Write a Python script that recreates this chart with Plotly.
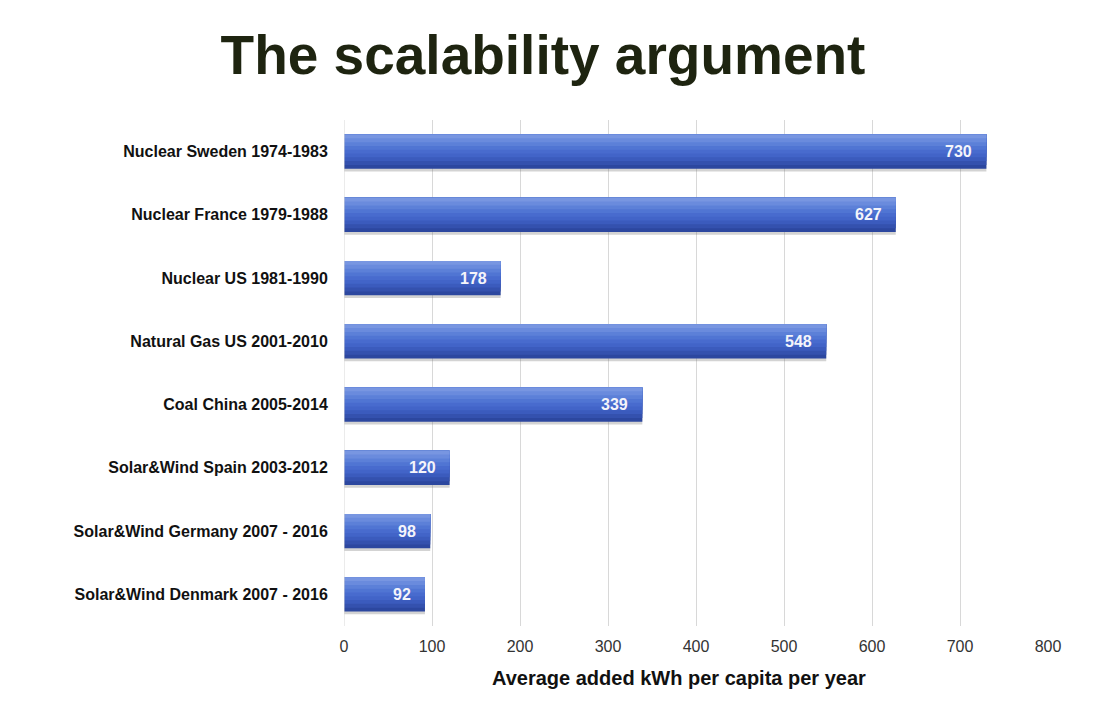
import plotly.graph_objects as go

categories = [
    "Nuclear Sweden 1974-1983",
    "Nuclear France 1979-1988",
    "Nuclear US 1981-1990",
    "Natural Gas US 2001-2010",
    "Coal China 2005-2014",
    "Solar&Wind Spain 2003-2012",
    "Solar&Wind Germany 2007 - 2016",
    "Solar&Wind Denmark 2007 - 2016",
]
values = [730, 627, 178, 548, 339, 120, 98, 92]
x_ticks = [0, 100, 200, 300, 400, 500, 600, 700, 800]

# plotly draws the first category at the bottom, so reverse for top-down order
cats = categories[::-1]
vals = values[::-1]

fig = go.Figure()
W = 0.54
# soft shadow
fig.add_trace(go.Bar(y=cats, x=vals, orientation="h", width=W, offset=-W / 2 - 0.045,
                     marker=dict(color="rgba(110,110,110,0.30)", line=dict(width=0)),
                     hoverinfo="skip", showlegend=False))
# vertical gradient built from stacked bands (bottom dark -> top light)
band_colors = ["#2c479f", "#3451ae", "#3b5bbd", "#4264c8", "#486bce", "#5075d3", "#5c80d8", "#6a8bdd", "#7896e1"]
n = len(band_colors)
for i, c in enumerate(band_colors):
    fig.add_trace(go.Bar(y=cats, x=vals, orientation="h", width=W * (n - i) / n,
                         offset=-W / 2 + W * i / n,
                         marker=dict(color=c, line=dict(width=0)),
                         hoverinfo="skip", showlegend=False))

annotations = [
    dict(x=v, y=c, xref="x", yref="y", text=f"<b>{v}</b>", showarrow=False,
         xanchor="right", yanchor="middle", xshift=-12,
         font=dict(family="Liberation Sans", size=16, color="#f4f4fa"))
    for c, v in zip(cats, vals)
]
annotations.append(dict(x=679 / 1100 - 8 / 1100, y=678, xref="paper", yref="paper",
                        text="<b>Average added kWh per capita per year</b>", showarrow=False,
                        xanchor="center", yanchor="middle",
                        font=dict(family="Liberation Sans", size=20, color="#111111")))
# convert the axis-title annotation to paper coordinates of the plot area
plot_l, plot_w = 336, 1100 - 336 - 60
plot_b, plot_h = 93, 711 - 112 - 93
annotations[-1]["x"] = (679 - 8 - plot_l) / plot_w
annotations[-1]["y"] = ((711 - (678 - 8)) - plot_b) / plot_h

fig.update_layout(
    barmode="overlay",
    width=1100, height=711,
    paper_bgcolor="white", plot_bgcolor="white",
    margin=dict(l=336, r=60, t=112, b=93),
    title=dict(text="<b>The scalability argument</b>", x=535 / 1100, xanchor="center",
               y=0.934, yanchor="middle",
               font=dict(family="Liberation Sans", size=55, color="#1e2410")),
    xaxis=dict(range=[0, 800], tickvals=x_ticks, showgrid=True, gridcolor="#d8d8d8",
               gridwidth=1, zeroline=False, showline=False,
               tickfont=dict(family="Liberation Sans Narrow, Liberation Sans", size=16, color="#333333"),
               ticks="outside", ticklen=6, tickcolor="rgba(0,0,0,0)"),
    yaxis=dict(showgrid=False, zeroline=False, showline=False,
               tickfont=dict(family="Liberation Sans", size=16, color="#111111", weight="bold"),
               ticks="outside", ticklen=12, tickcolor="rgba(0,0,0,0)"),
    shapes=[dict(type="line", xref="x", yref="paper", x0=0, x1=0, y0=0, y1=1,
                 line=dict(color="#d8d8d8", width=1))],
    annotations=annotations,
)

fig.write_html("out.html")
